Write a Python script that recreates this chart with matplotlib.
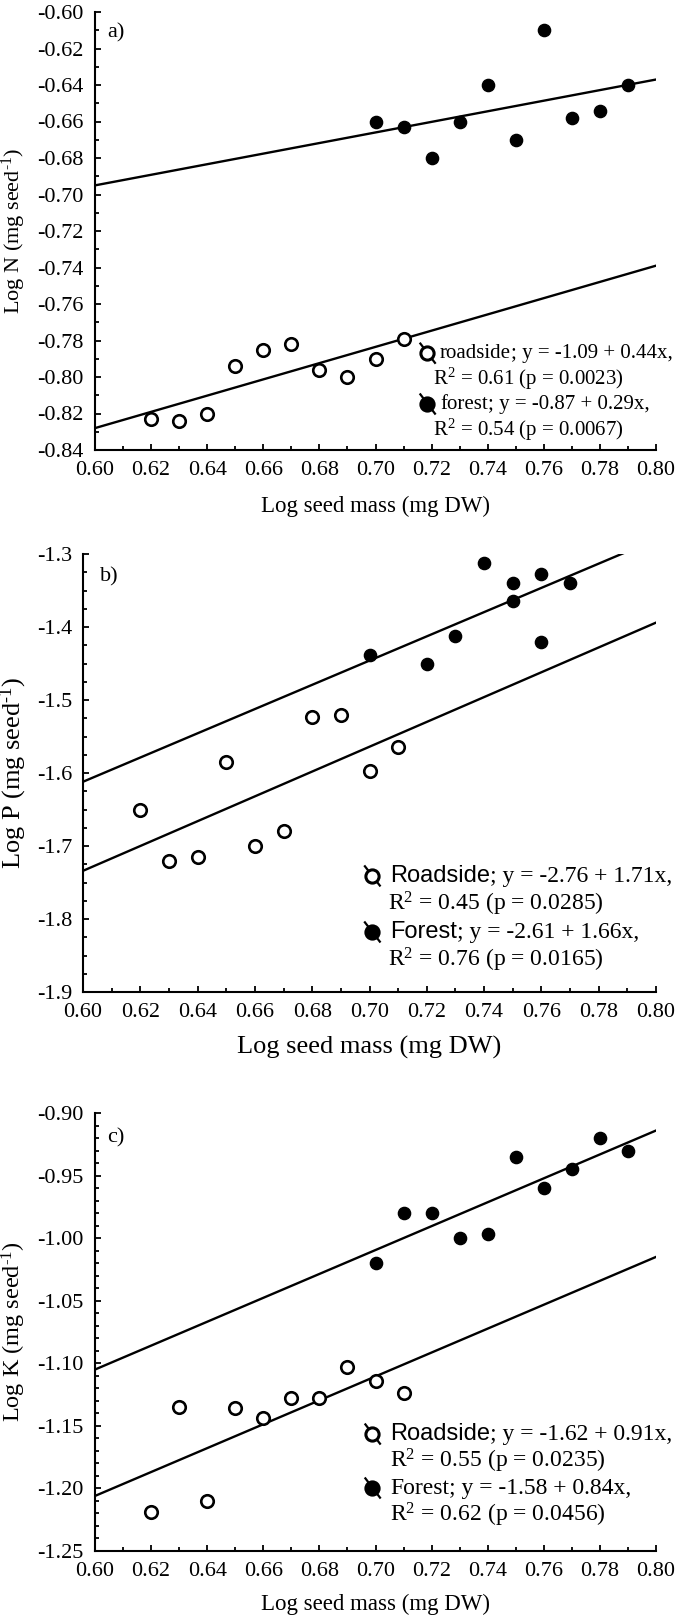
import matplotlib
matplotlib.use("Agg")
import matplotlib.pyplot as plt
from matplotlib.ticker import MultipleLocator, FormatStrFormatter

plt.rcParams['font.family'] = ['Liberation Serif', 'DejaVu Serif']
plt.rcParams['mathtext.fontset'] = 'custom'
plt.rcParams['mathtext.rm'] = 'Liberation Serif'
plt.rcParams['mathtext.it'] = 'Liberation Serif:italic'
plt.rcParams['axes.unicode_minus'] = False

# ---- datos ----
x_road = [0.62, 0.63, 0.64, 0.65, 0.66, 0.67, 0.68, 0.69, 0.70, 0.71]

# a) N
n_road = [-0.823, -0.824, -0.820, -0.794, -0.785, -0.782, -0.796, -0.800, -0.790, -0.779]
x_for_n = [0.70, 0.71, 0.72, 0.73, 0.74, 0.75, 0.76, 0.77, 0.78, 0.79]
n_for = [-0.660, -0.663, -0.680, -0.660, -0.640, -0.670, -0.610, -0.658, -0.654, -0.640]

# b) P
p_road = [-1.650, -1.720, -1.715, -1.585, -1.700, -1.680, -1.523, -1.520, -1.597, -1.565]
x_for_p = [0.70, 0.72, 0.73, 0.74, 0.75, 0.75, 0.76, 0.76, 0.77]
p_for = [-1.438, -1.450, -1.413, -1.313, -1.340, -1.365, -1.328, -1.420, -1.340]

# c) K
k_road = [-1.219, -1.135, -1.210, -1.136, -1.144, -1.128, -1.128, -1.103, -1.114, -1.124]
x_for_k = [0.70, 0.71, 0.72, 0.73, 0.74, 0.75, 0.76, 0.77, 0.78, 0.79]
k_for = [-1.020, -0.980, -0.980, -1.000, -0.997, -0.935, -0.960, -0.945, -0.920, -0.930]

# rectas de ajuste (extremos en x = 0.60 y 0.80)
fit_x = [0.60, 0.80]
n_fit_road = [-0.828, -0.739]
n_fit_for = [-0.695, -0.637]
p_fit_road = [-1.734, -1.394]
p_fit_for = [-1.612, -1.280]
k_fit_road = [-1.206, -1.015]
k_fit_for = [-1.105, -0.914]

y_labels = [r'Log N (mg seed$^{\text{-1}}$)', r'Log P (mg seed$^{\text{-1}}$)',
            r'Log K (mg seed$^{\text{-1}}$)']
x_label = 'Log seed mass (mg DW)'
panel_tags = ['a)', 'b)', 'c)']

leyendas = [
    [('roadside', '; y = -1.09 + 0.44x,', False), 'R$^{2}$ = 0.61 (p = 0.0023)',
     ('forest', '; y = -0.87 + 0.29x,', False), 'R$^{2}$ = 0.54 (p = 0.0067)'],
    [('Roadside', '; y = -2.76 + 1.71x,', True), 'R$^{2}$ = 0.45 (p = 0.0285)',
     ('Forest', '; y = -2.61 + 1.66x,', True), 'R$^{2}$ = 0.76 (p = 0.0165)'],
    [('Roadside', '; y = -1.62 + 0.91x,', True), 'R$^{2}$ = 0.55 (p = 0.0235)',
     ('Forest', '; y = -1.58 + 0.84x,', False), 'R$^{2}$ = 0.62 (p = 0.0456)'],
]

W, H = 675, 1622
fig = plt.figure(figsize=(W / 100, H / 100), dpi=100)


def px_axes(left, right, top, bottom):
    return fig.add_axes([left / W, 1 - bottom / H, (right - left) / W, (bottom - top) / H])


paneles = [
    dict(ax=px_axes(95, 656, 12, 450), xr=x_road, yr=n_road, xf=x_for_n, yf=n_for,
         fr=n_fit_road, ff=n_fit_for, ylim=(-0.84, -0.60), major=0.02, minor=0.01, fmt='%.2f',
         ylab_fs=16, xlab_fs=16.5, leg_fs=15, leg=(0.592, 0.615, 0.602, 0.221, 0.058),
         tag=(0.021, 0.952), ylab_x=-0.12, xlab_y=-0.105),
    dict(ax=px_axes(83, 656, 554, 992), xr=x_road, yr=p_road, xf=x_for_p, yf=p_for,
         fr=p_fit_road, ff=p_fit_for, ylim=(-1.9, -1.3), major=0.1, minor=0.025, fmt='%.1f',
         ylab_fs=19, xlab_fs=19, leg_fs=17, leg=(0.504, 0.536, 0.532, 0.265, 0.064),
         tag=(0.030, 0.947), ylab_x=-0.094, xlab_y=-0.10),
    dict(ax=px_axes(95, 656, 1113, 1551), xr=x_road, yr=k_road, xf=x_for_k, yf=k_for,
         fr=k_fit_road, ff=k_fit_for, ylim=(-1.25, -0.90), major=0.05, minor=0.01, fmt='%.2f',
         ylab_fs=17.5, xlab_fs=16.5, leg_fs=17, leg=(0.494, 0.526, 0.526, 0.267, 0.0616),
         tag=(0.021, 0.943), ylab_x=-0.12, xlab_y=-0.098),
]

for i, p in enumerate(paneles):
    ax = p['ax']
    ax.plot(fit_x, p['fr'], color='black', lw=1.7, zorder=2)
    ax.plot(fit_x, p['ff'], color='black', lw=1.7, zorder=2)
    ax.plot(p['xr'], p['yr'], 'o', ms=9, mfc='white', mec='black', mew=1.9, zorder=3)
    ax.plot(p['xf'], p['yf'], 'o', ms=8.8, mfc='black', mec='black', zorder=3)

    ax.set_xlim(0.60, 0.80)
    ax.set_ylim(*p['ylim'])
    ax.spines['top'].set_visible(False)
    ax.spines['right'].set_visible(False)
    ax.spines['left'].set_linewidth(1.5)
    ax.spines['bottom'].set_linewidth(1.5)
    ax.xaxis.set_major_locator(MultipleLocator(0.02))
    ax.xaxis.set_minor_locator(MultipleLocator(0.01))
    ax.yaxis.set_major_locator(MultipleLocator(p['major']))
    ax.yaxis.set_minor_locator(MultipleLocator(p['minor']))
    ax.xaxis.set_major_formatter(FormatStrFormatter('%.2f'))
    ax.yaxis.set_major_formatter(FormatStrFormatter(p['fmt']))
    ax.tick_params(which='both', direction='in', width=1.3, labelsize=16)
    ax.tick_params(which='major', length=4, pad=8)
    ax.tick_params(which='minor', length=3)

    ax.set_ylabel(y_labels[i], fontsize=p['ylab_fs'])
    ax.yaxis.set_label_coords(p['ylab_x'], 0.5)
    ax.set_xlabel(x_label, fontsize=p['xlab_fs'])
    ax.xaxis.set_label_coords(0.5, p['xlab_y'])
    ax.text(p['tag'][0], p['tag'][1], panel_tags[i], transform=ax.transAxes,
            fontsize=16, ha='left', va='center')

    # leyenda manual: simbolo + recta
    sx, tx, rx, y0, dy = p['leg']
    fs = p['leg_fs']
    for j, linea in enumerate(leyendas[i]):
        y = y0 - j * dy
        if isinstance(linea, tuple):
            nombre, resto, sans = linea
            relleno = 'white' if j == 0 else 'black'
            ax.plot([sx - 0.012, sx + 0.014], [y + 0.022, y - 0.022], color='black', lw=1.6,
                    transform=ax.transAxes, clip_on=False, zorder=4)
            ax.plot([sx], [y], 'o', ms=9.5, mfc=relleno, mec='black', mew=2.2,
                    transform=ax.transAxes, clip_on=False, zorder=5)
            fam = ['Liberation Sans', 'DejaVu Sans'] if sans else ['Liberation Serif', 'DejaVu Serif']
            t1 = ax.text(tx, y, nombre, transform=ax.transAxes, fontsize=fs,
                         family=fam, ha='left', va='center')
            ax.annotate(resto, xy=(1, 0), xycoords=t1, fontsize=fs, ha='left', va='bottom')
        else:
            ax.text(rx, y, linea, transform=ax.transAxes, fontsize=fs, ha='left', va='center')

fig.savefig('out.png', dpi=100)
